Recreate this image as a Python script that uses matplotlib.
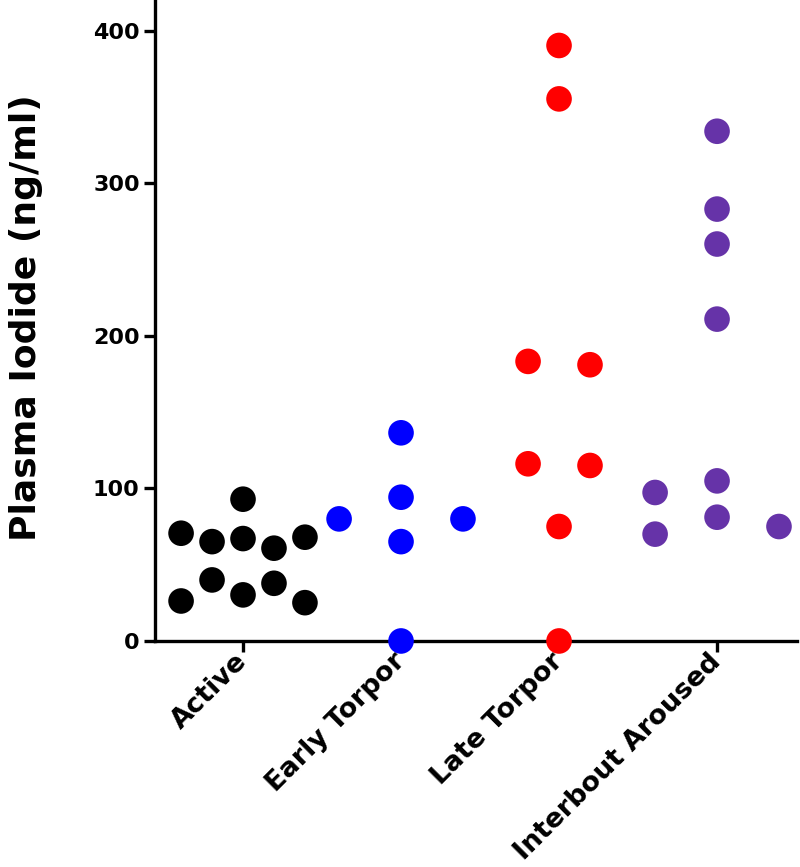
import numpy as np
import matplotlib.pyplot as plt

plt.rcParams['font.family'] = ['DejaVu Sans']
plt.rcParams['font.weight'] = 'bold'

groups = ['Active', 'Early Torpor', 'Late Torpor', 'Interbout Aroused']
colors = ['black', '#0000ff', '#ff0000', '#6633a8']

# plasma iodide, ng/ml (sample order)
active = [30.2, 26.2, 25.1, 40.0, 37.8, 67.1, 70.6, 68.0, 65.1, 60.8, 92.9]
early_torpor = [0.0, 65.1, 94.2, 136.4, 80.0, 80.0]
late_torpor = [0.0, 75.0, 115.0, 116.1, 181.0, 183.2, 355.2, 390.2]
interbout_aroused = [334.0, 283.0, 260.1, 210.9, 81.1, 70.0, 75.0, 104.9, 97.3]

data = [active, early_torpor, late_torpor, interbout_aroused]


def swarm(vals, gap=18, order=(0, -2, 2, -1, 1, -3, 3, -4, 4)):
    # greedy column layout: a point goes to the first free column
    slots = []
    for v in vals:
        for s in order:
            if all(abs(v - u) >= gap for u, t in zip(vals, slots) if t == s):
                slots.append(s)
                break
    vals = np.array(vals)
    slots = np.array(slots, dtype=float)
    # then center every cluster of touching points on the group
    idx = np.argsort(vals)
    start = 0
    for k in range(1, len(idx) + 1):
        if k == len(idx) or vals[idx[k]] - vals[idx[k - 1]] >= gap:
            c = idx[start:k]
            slots[c] -= np.round(slots[c].mean())
            start = k
    return slots


fig = plt.figure(figsize=(8, 8.67), dpi=100)
ax = fig.add_axes([0.19375, 0.2607, 0.8025, 0.7393])

width = 0.196
for i, vals in enumerate(data):
    x = i + swarm(vals) * width
    ax.scatter(x, vals, s=340, color=colors[i], edgecolors='none', clip_on=False, zorder=3)

ax.set_xlim(-0.557, 3.506)
ax.set_ylim(0, 420)
ax.set_yticks([0, 100, 200, 300, 400])
ax.set_xticks(range(len(groups)))
ax.set_xticklabels(groups, rotation=45, ha='right', va='center', rotation_mode='anchor')

for side in ['top', 'right']:
    ax.spines[side].set_visible(False)
for side in ['left', 'bottom']:
    ax.spines[side].set_linewidth(2.4)

ax.tick_params(axis='both', width=2.4, length=8)
ax.tick_params(axis='y', labelsize=16, pad=3)
ax.tick_params(axis='x', labelsize=19.5, pad=4)
ax.set_ylabel('Plasma Iodide (ng/ml)', fontsize=26, fontweight='bold')
ax.yaxis.set_label_coords(-0.175, 0.505)

plt.savefig('out.png', dpi=100)
